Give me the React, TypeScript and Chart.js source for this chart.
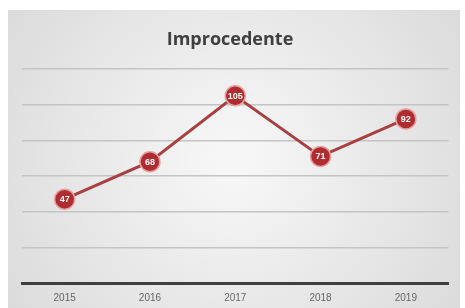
import React, { useEffect, useRef } from "react";
import { Chart, registerables } from "chart.js";

Chart.register(...registerables);

const categories = ["2015", "2016", "2017", "2018", "2019"];
const values = [47, 68, 105, 71, 92];
const chartTitle = "Improcedente";

const bgPlugin = {
  id: "bgPlugin",
  beforeDraw(chart: any) {
    const { ctx, width, height } = chart;
    ctx.save();
    const g = ctx.createRadialGradient(width / 2, height / 2, 20, width / 2, height / 2, width * 0.62);
    g.addColorStop(0, "#f6f6f6");
    g.addColorStop(1, "#dadada");
    ctx.fillStyle = g;
    ctx.fillRect(0, 0, width, height);
    ctx.fillStyle = "#404040";
    ctx.font = "bold 18px 'Open Sans', 'Liberation Sans', sans-serif";
    ctx.textAlign = "center";
    ctx.textBaseline = "middle";
    ctx.fillText(chartTitle, width / 2 - 4, 30);
    ctx.restore();
  },
};

const labelPlugin = {
  id: "labelPlugin",
  afterDatasetsDraw(chart: any) {
    const { ctx } = chart;
    const meta = chart.getDatasetMeta(0);
    ctx.save();
    ctx.fillStyle = "#ffffff";
    ctx.font = "bold 9px 'Liberation Sans Narrow', 'Liberation Sans', sans-serif";
    ctx.textAlign = "center";
    ctx.textBaseline = "middle";
    meta.data.forEach((pt: any, i: number) => {
      ctx.fillText(String(chart.data.datasets[0].data[i]), pt.x, pt.y + 0.5);
    });
    ctx.restore();
  },
};

export default function App() {
  const ref = useRef<HTMLCanvasElement>(null);
  useEffect(() => {
    if (!ref.current) return;
    const chart = new Chart(ref.current, {
      type: "line",
      data: {
        labels: categories,
        datasets: [
          {
            data: values,
            borderColor: "#aa3f42",
            borderWidth: 3,
            pointBackgroundColor: "#b02c2f",
            pointBorderColor: "#e3a0a0",
            pointBorderWidth: 1.5,
            pointRadius: 10,
            tension: 0,
          },
        ],
      },
      options: {
        animation: false,
        responsive: false,
        layout: { padding: { left: 14, right: 6, top: 59, bottom: 0 } },
        plugins: { legend: { display: false }, title: { display: false }, tooltip: { enabled: false } },
        scales: {
          x: {
            offset: true,
            grid: { display: false, drawTicks: false },
            border: { display: true, color: "#3f3f3f", width: 3 },
            ticks: {
              padding: 9,
              color: "#666666",
              font: { size: 10, family: "'Liberation Sans Narrow', 'Liberation Sans', sans-serif" },
            },
            afterFit(scale: any) {
              scale.height = 25;
            },
          },
          y: {
            min: 0,
            max: 120,
            ticks: { display: false, stepSize: 20 },
            border: { display: false },
            grid: {
              drawTicks: false,
              lineWidth: 1.5,
              color: (c: any) => (c.tick && c.tick.value === 0 ? "rgba(0,0,0,0)" : "#c4c4c4"),
            },
            afterFit(scale: any) {
              scale.width = 0;
            },
          },
        },
      },
      plugins: [bgPlugin, labelPlugin],
    });
    return () => chart.destroy();
  }, []);
  return (
    <div style={{ position: "fixed", left: 8, top: 10, width: 452, height: 298 }}>
      <canvas ref={ref} width={452} height={298} />
    </div>
  );
}
